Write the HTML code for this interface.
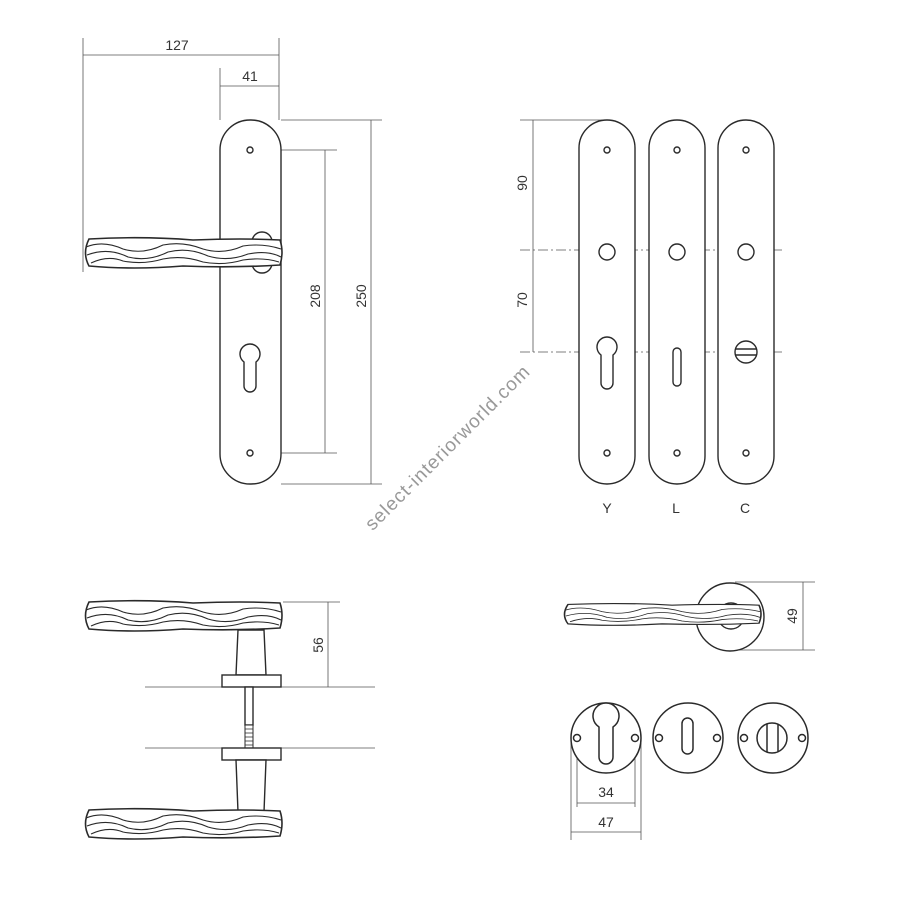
<!DOCTYPE html>
<html><head><meta charset="utf-8"><style>html,body{margin:0;padding:0;background:#fff}svg{display:block}</style></head>
<body>
<svg width="900" height="900" viewBox="0 0 900 900" xmlns="http://www.w3.org/2000/svg" font-family="Liberation Sans, sans-serif">
<defs>
<g id="h" fill="none" stroke="#2a2a2a" stroke-width="1.6">
<path d="M6 2 Q60 -1 110 3 Q160 1 197 3 Q201 15 197 28 Q150 31 100 29 Q50 33 6 29 Q-1 16 6 2Z" fill="#fff"/>
<path d="M3 10 Q20 3 40 12 Q60 18 80 8 Q100 4 120 12 Q140 18 160 9 Q180 6 198 12" stroke-width="1.1"/>
<path d="M4 18 Q25 10 45 20 Q65 25 85 15 Q105 10 125 19 Q145 25 165 17 Q185 13 198 20" stroke-width="1.1"/>
<path d="M8 26 Q25 18 40 24 Q60 28 80 22 Q100 18 120 25 Q140 29 160 23 Q180 20 196 25" stroke-width="1.1"/>
</g>
<g id="pl" fill="none" stroke="#2a2a2a" stroke-width="1.4">
<rect x="0" y="0" width="56" height="364" rx="28" ry="28" fill="#fff"/>
<circle cx="28" cy="30" r="3"/><circle cx="28" cy="333" r="3"/>
</g>
<g id="ros" fill="#fff" stroke="#2a2a2a" stroke-width="1.5">
<circle r="35"/><circle cx="-29" r="3.5"/><circle cx="29" r="3.5"/>
</g>
</defs>
<g stroke="#555" stroke-width="0.8" fill="none">
<line x1="83" y1="38" x2="83" y2="272"/><line x1="279" y1="38" x2="279" y2="120"/>
<line x1="83" y1="55" x2="279" y2="55"/>
<line x1="220" y1="68" x2="220" y2="120"/><line x1="220" y1="86" x2="279" y2="86"/>
<line x1="255" y1="150" x2="337" y2="150"/><line x1="255" y1="453" x2="337" y2="453"/>
<line x1="325" y1="150" x2="325" y2="453"/>
<line x1="281" y1="120" x2="382" y2="120"/><line x1="281" y1="484" x2="382" y2="484"/>
<line x1="371" y1="120" x2="371" y2="484"/>
<line x1="520" y1="120" x2="610" y2="120"/><line x1="533" y1="120" x2="533" y2="352"/>
<line x1="520" y1="250" x2="785" y2="250" stroke-dasharray="10 3 2 3"/>
<line x1="520" y1="352" x2="785" y2="352" stroke-dasharray="10 3 2 3"/>
<line x1="283" y1="602" x2="340" y2="602"/><line x1="328" y1="602" x2="328" y2="687"/>
<line x1="145" y1="687" x2="375" y2="687"/><line x1="145" y1="748" x2="375" y2="748"/>
<line x1="735" y1="582" x2="815" y2="582"/><line x1="735" y1="650" x2="815" y2="650"/>
<line x1="803" y1="582" x2="803" y2="650"/>
<line x1="577" y1="737" x2="577" y2="807"/><line x1="635" y1="737" x2="635" y2="807"/>
<line x1="571" y1="740" x2="571" y2="840"/><line x1="641" y1="740" x2="641" y2="840"/>
<line x1="577" y1="803" x2="635" y2="803"/><line x1="571" y1="832" x2="641" y2="832"/>
</g>
<g font-size="14" fill="#333" text-anchor="middle">
<text x="177" y="50">127</text><text x="250" y="81">41</text>
<text transform="translate(320,296) rotate(-90)">208</text>
<text transform="translate(366,296) rotate(-90)">250</text>
<text transform="translate(527,183) rotate(-90)">90</text>
<text transform="translate(527,300) rotate(-90)">70</text>
<text x="607" y="513">Y</text><text x="676" y="513">L</text><text x="745" y="513">C</text>
<text transform="translate(323,645) rotate(-90)">56</text>
<text transform="translate(797,616) rotate(-90)">49</text>
<text x="606" y="797">34</text><text x="606" y="827">47</text>
</g>
<text transform="translate(452,452) rotate(-45)" text-anchor="middle" font-size="19" letter-spacing="1" fill="#999">select-interiorworld.com</text>
<g fill="#fff" stroke="#2a2a2a" stroke-width="1.4">
<rect x="220" y="120" width="61" height="364" rx="30" ry="30"/>
<circle cx="250" cy="150" r="3"/><circle cx="250" cy="453" r="3"/>
<path d="M244 362 A10 10 0 1 1 256 362 L256 386 A6 6 0 0 1 244 386 Z"/>
<circle cx="262" cy="242" r="10"/><circle cx="262" cy="263" r="10"/>
</g>
<use href="#h" x="83" y="237"/>
<use href="#pl" x="579" y="120"/><use href="#pl" x="649" y="120"/><use href="#pl" x="718" y="120"/>
<g fill="#fff" stroke="#2a2a2a" stroke-width="1.4">
<circle cx="607" cy="252" r="8"/><circle cx="677" cy="252" r="8"/><circle cx="746" cy="252" r="8"/>
<path d="M601 355 A10 10 0 1 1 613 355 L613 383 A6 6 0 0 1 601 383 Z"/>
<rect x="673" y="348" width="8" height="38" rx="4"/>
<circle cx="746" cy="352" r="11"/><line x1="735" y1="349" x2="757" y2="349"/><line x1="735" y1="355" x2="757" y2="355"/>
</g>
<g fill="#fff" stroke="#2a2a2a" stroke-width="1.4">
<path d="M238 630 L264 630 L266 675 L236 675 Z"/>
<rect x="222" y="675" width="59" height="12"/>
<rect x="245" y="687" width="8" height="38"/>
<path d="M245 725 L253 725 L253 748 L245 748Z" stroke-width="1"/>
<path d="M245 729 H253 M245 733 H253 M245 737 H253 M245 741 H253 M245 745 H253" stroke-width="0.8"/>
<rect x="222" y="748" width="59" height="12"/>
<path d="M236 760 L266 760 L264 812 L238 812 Z"/>
</g>
<use href="#h" x="83" y="600"/>
<use href="#h" x="83" y="808"/>
<g fill="#fff" stroke="#2a2a2a" stroke-width="1.4">
<circle cx="730" cy="617" r="34"/><circle cx="731" cy="616" r="13"/>
</g>
<use href="#h" transform="translate(562,603) scale(1,0.72)"/>
<use href="#ros" x="606" y="738"/><use href="#ros" x="688" y="738"/><use href="#ros" x="773" y="738"/>
<g fill="#fff" stroke="#2a2a2a" stroke-width="1.5">
<path d="M599 727 A13 13 0 1 1 613 727 L613 757 A7 7 0 0 1 599 757 Z"/>
<rect x="682" y="718" width="11" height="36" rx="5.5"/>
<circle cx="772" cy="738" r="15"/><line x1="767" y1="724" x2="767" y2="752"/><line x1="778" y1="724" x2="778" y2="752"/>
</g>
</svg>
</body></html>
